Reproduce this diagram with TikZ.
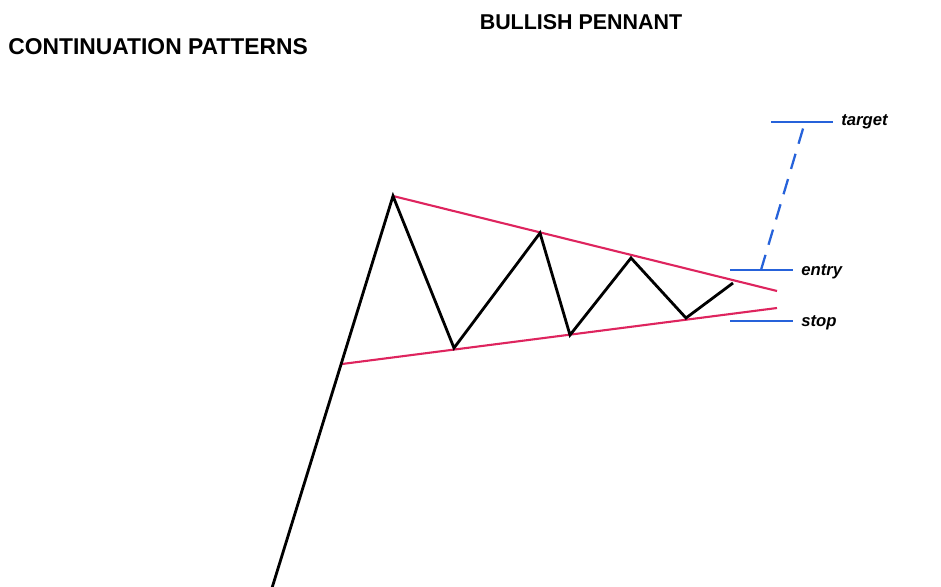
\documentclass[tikz,border=0pt]{standalone}
\usepackage{fontspec}
\setmainfont{Liberation Sans}
\usepackage{xcolor}
\usetikzlibrary{positioning}
\definecolor{pennantred}{RGB}{222,36,94}
\definecolor{levelblue}{RGB}{38,98,218}

\begin{document}
\begin{tikzpicture}[
  x=0.02cm, y=-0.02cm,
  title/.style={font=\bfseries\fontsize{12.2}{14}\selectfont, inner sep=0pt},
  level/.style={font=\bfseries\itshape\fontsize{9.5}{11}\selectfont, anchor=west, inner sep=0pt},
  price/.style={line width=1.6pt, line join=miter},
  trend/.style={pennantred, line width=1.2pt},
  mark line/.style={levelblue, line width=1.3pt}
]
\useasboundingbox (0,0) rectangle (941,586);

% Titles
\node[title] (t1) at (581,22) {BULLISH PENNANT};
\node[title, anchor=west, font=\bfseries\fontsize{13}{15}\selectfont] (t2) at (8,47) {CONTINUATION PATTERNS};

% Price points
\coordinate (p0) at (272,588);
\coordinate (p1) at (393,196);
\coordinate (p2) at (454,348);
\coordinate (p3) at (540,233);
\coordinate (p4) at (570,335);
\coordinate (p5) at (631,258);
\coordinate (p6) at (686,318);
\coordinate (p7) at (733,283);
% Trend line ends
\coordinate (u1) at (777,291);
\coordinate (l0) at (342,364);
\coordinate (l1) at (777,308);

% Trend lines
\draw[trend] (p1) -- (u1);
\draw[trend] (l0) -- (l1);

% Price
\draw[price] (p0) -- (p1) -- (p2) -- (p3) -- (p4) -- (p5) -- (p6) -- (p7);

% Levels
\coordinate (e0) at (730,270);
\coordinate (e1) at (793,270);
\coordinate (s0) at (730,321);
\coordinate (s1) at (793,321);
\coordinate (g0) at (771,122);
\coordinate (g1) at (833,122);
\draw[mark line] (e0) -- (e1);
\draw[mark line] (s0) -- (s1);
\draw[mark line] (g0) -- (g1);
\node[level] (entry) at (801,272) {entry};
\node[level] (stop) at (801,323) {stop};
\node[level] (target) at (841,122) {target};

% Projection
\coordinate (d0) at (761,270);
\coordinate (d1) at (805,122);
\draw[mark line, dash pattern=on 9pt off 6pt] (d0) -- (d1);
\end{tikzpicture}
\end{document}
